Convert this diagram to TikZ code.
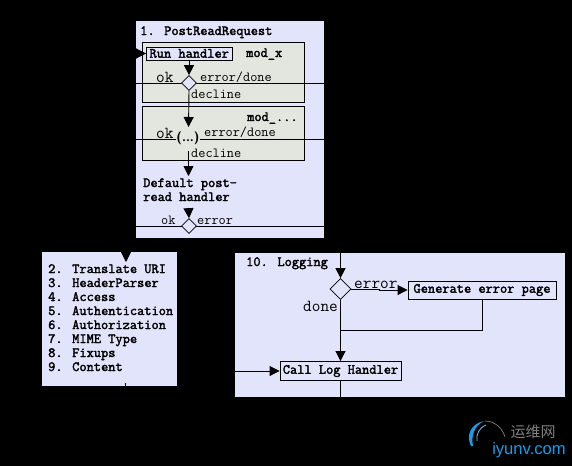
\documentclass[tikz,border=0pt]{standalone}
\usepackage{fontspec}
\setmonofont{Latin Modern Mono}
\newfontfamily\boldtt[FakeBold=2.2]{Latin Modern Mono}
\newfontfamily\cjkfont{Noto Sans CJK SC}
\newfontfamily\wmfont{Liberation Sans}
\usetikzlibrary{arrows.meta,shapes.geometric}
\definecolor{panel}{HTML}{E1E4FA}
\definecolor{modbox}{HTML}{E3E5DF}
\definecolor{wmblue}{HTML}{1E9BE6}
\tikzset{
  x=1pt,y=-1pt,
  panelbox/.style={fill=panel,draw=none},
  modrect/.style={fill=modbox,draw=black,line width=0.9pt},
  handler/.style={draw=black,line width=0.9pt,fill=panel,inner sep=0pt,font=\boldtt\fontsize{14}{14}\selectfont},
  bold/.style={inner sep=0pt,anchor=base west,font=\boldtt\fontsize{14}{14}\selectfont,text=black},
  listitem/.style={bold,font=\boldtt\fontsize{14}{14}\selectfont},
  thin label/.style={inner sep=0pt,anchor=base west,font=\ttfamily\fontsize{13.9}{14}\selectfont,text=black},
  wide label/.style={inner sep=0pt,anchor=base west,font=\ttfamily\fontsize{16.8}{14}\selectfont,text=black},
  decision/.style={diamond,draw=black,fill=panel,line width=0.7pt,inner sep=0pt,minimum width=15pt,minimum height=15pt,aspect=1},
  flow/.style={draw=black,line width=0.9pt},
  arrow/.style={flow,-{Triangle[length=10pt,width=10pt]}},
}
\begin{document}
\begin{tikzpicture}
\useasboundingbox (0,0) rectangle (572,466);
\fill[black] (0,0) rectangle (572,466);
% panels
\fill[panelbox] (136,21) rectangle (324,238);
\fill[panelbox] (42,252) rectangle (177,386);
\fill[panelbox] (235,253) rectangle (565,397);
\draw[modrect] (142.5,42.5) rectangle (304.5,102);
\draw[modrect] (142.5,106) rectangle (304.5,160);
% panel 1 edge coordinates
\coordinate (p1a) at (136,83);  \coordinate (p1b) at (324,83);
\coordinate (p2a) at (136,139); \coordinate (p2b) at (324,139);
\coordinate (p3a) at (136,226); \coordinate (p3b) at (324,226);
\coordinate (in1) at (136,53.5);
\draw[flow] (p1a) -- (p1b);
\draw[flow] (p2a) -- (p2b);
\draw[flow] (p3a) -- (p3b);
% panel 1 nodes
\node[bold] (title1) at (140,35) {1. PostReadRequest};
\node[handler,minimum width=85.5pt,minimum height=13pt] (run) at (189.25,53.5) {Run handler};
\node[bold] (modx) at (246,57) {mod\_x};
\node[decision] (d1) at (189,83) {};
\node[wide label] (ok1) at (156,82) {ok};
\node[thin label] (err1) at (200,81) {error/done};
\node[thin label] (dec1) at (191,98) {decline};
\node[bold] (mod2) at (247,121) {mod\_...};
\node[inner sep=0pt,fill=modbox,minimum width=20pt,minimum height=15pt,font=\sffamily\bfseries\fontsize{13}{13}\selectfont] (d2) at (188,138) {(...)};
\node[wide label] (ok2) at (156,138) {ok};
\node[thin label] (err2) at (204,136) {error/done};
\node[thin label] (dec2) at (191,157) {decline};
\node[bold] (def1) at (143,187) {Default post-};
\node[bold] (def2) at (143,201) {read handler};
\node[decision] (d3) at (189,226) {};
\node[thin label] (ok3) at (161,224) {ok};
\node[thin label] (err3) at (197,224) {error};
% panel 1 connectors
\draw[arrow] (in1) -- (run.west);
\draw[arrow] (run.south -| d1) -- (d1.north);
\coordinate (d2top) at (188.5,127);
\draw[arrow] (d1.south) -- (d2top);
\coordinate (d2low) at (188.5,151);
\coordinate (defTop) at (188.5,176);
\draw[arrow] (d2low) -- (defTop);
\coordinate (def3) at (188.5,208);
\draw[arrow] (def3) -- (d3.north);
% list panel
\coordinate (ltop) at (126,252);
\coordinate (ltip) at (126,262);
\draw[arrow] (ltop) -- (ltip);
\node[listitem] (l2) at (48,273) {2. Translate URI};
\node[listitem] (l3) at (48,287) {3. HeaderParser};
\node[listitem] (l4) at (48,301) {4. Access};
\node[listitem] (l5) at (48,315) {5. Authentication};
\node[listitem] (l6) at (48,329) {6. Authorization};
\node[listitem] (l7) at (48,343) {7. MIME Type};
\node[listitem] (l8) at (48,357) {8. Fixups};
\node[listitem] (l9) at (48,371) {9. Content};
\coordinate (lb1) at (125.5,383);
\coordinate (lb2) at (125.5,386);
\draw[flow] (lb1) -- (lb2);
% logging panel
\node[bold] (title10) at (246,266) {10. Logging};
\node[decision,minimum width=21pt,minimum height=21pt] (d4) at (340.5,289) {};
\node[handler,minimum width=148pt,minimum height=18pt] (gen) at (482,290) {Generate error page};
\node[handler,minimum width=121pt,minimum height=19pt] (log) at (340.5,371) {Call Log Handler};
\node[wide label] (err4) at (354,288) {error};
\node[wide label] (done) at (303,311) {done};
\coordinate (ltop2) at (340.5,253);
\coordinate (mid) at (379,289);
\coordinate (join) at (340.5,330);
\coordinate (lin) at (235,371);
\coordinate (lout) at (340.5,397);
\draw[arrow] (ltop2) -- (d4.north);
\draw[arrow] (d4.east) -- (mid) -- (mid |- gen.west) -- (gen.west);
\draw[arrow] (d4.south) -- (log.north);
\draw[flow] (gen.south) |- (join);
\draw[arrow] (lin) -- (log.west);
\draw[flow] (log.south) -- (lout);
% watermark
\fill[wmblue] (471,446) .. controls (466,436) and (470,424) .. (484,421) .. controls (474,426) and (471,436) .. (473,446) -- cycle;
\draw[wmblue!60!white,line width=0.8pt] (477,441) .. controls (476,434) and (479,428) .. (486,425);
\draw[gray,line width=0.7pt] (485,421) .. controls (494,421) and (502,427) .. (505,437);
\node[inner sep=0pt,text=gray,font=\cjkfont\fontsize{15}{15}\selectfont] (wmcn) at (533,432) {运维网};
\node[inner sep=0pt,text=wmblue,font=\wmfont\fontsize{16.6}{16}\selectfont] (wmen) at (529,450) {iyunv.com};
\end{tikzpicture}
\end{document}
